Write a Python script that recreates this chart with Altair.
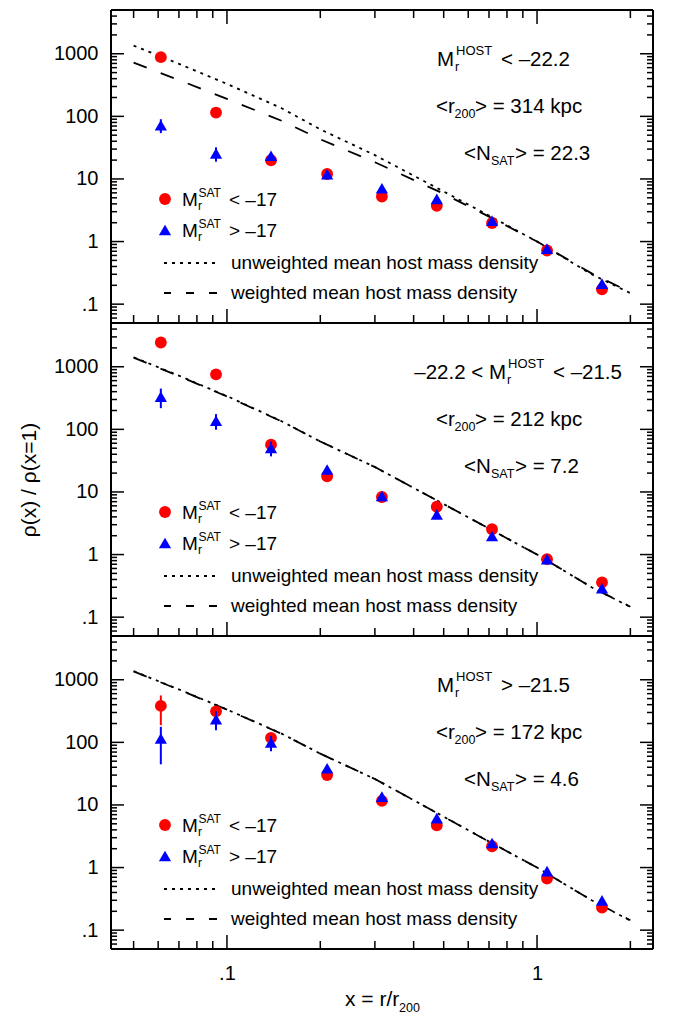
import altair as alt
import pandas as pd

FONT = "Liberation Sans"

# ---------------- data ----------------
X_PTS = [0.0612, 0.0922, 0.1387, 0.2104, 0.316, 0.475, 0.716, 1.077, 1.62]

RED_1 = [883, 115, 19.9, 12.0, 5.25, 3.73, 1.98, 0.72, 0.173]
BLUE_1 = [72, 25.6, 23.5, 11.9, 7.1, 4.8, 2.16, 0.77, 0.213]
RED_2 = [2440, 757, 57, 17.8, 8.3, 5.8, 2.54, 0.845, 0.36]
BLUE_2 = [333, 137, 50.5, 22.8, 8.6, 4.39, 1.98, 0.845, 0.29]
RED_3 = [382, 313, 118, 30.1, 11.6, 4.72, 2.19, 0.668, 0.229]
BLUE_3 = [115, 234, 99.6, 38.5, 13.6, 6.17, 2.47, 0.877, 0.299]

# visible error bars: (point index, low, high)
ERR_RED_1 = []
ERR_BLUE_1 = [(0, 54, 90), (1, 18.9, 32)]
ERR_RED_2 = []
ERR_BLUE_2 = [(0, 218, 448), (1, 98.6, 175), (2, 37, 64)]
ERR_RED_3 = [(0, 188, 562)]
ERR_BLUE_3 = [(0, 44.6, 177), (1, 156, 312), (2, 72, 127)]

X_LINE = [0.05, 0.07, 0.1, 0.15, 0.2, 0.3, 0.5, 0.7, 1.0, 1.5, 2.0]
UNW_1 = [1350, 690, 330, 135, 62, 24, 6.3, 2.6, 1.0, 0.30, 0.15]
WTD_1 = [720, 380, 190, 85, 43, 18.5, 5.8, 2.5, 1.0, 0.31, 0.155]
UNW_2 = [1420, 720, 340, 135, 64, 25, 6.4, 2.6, 1.0, 0.30, 0.145]
WTD_2 = [1400, 710, 335, 134, 64, 25, 6.4, 2.6, 1.0, 0.30, 0.147]
UNW_3 = [1370, 700, 335, 138, 66, 26, 6.5, 2.6, 1.0, 0.30, 0.142]
WTD_3 = [1360, 695, 333, 137, 66, 26, 6.5, 2.6, 1.0, 0.30, 0.144]

Y_MAJOR = [0.1, 1, 10, 100, 1000]
Y_MINOR = [0.05, 0.06, 0.07, 0.08, 0.09,
           0.2, 0.3, 0.4, 0.5, 0.6, 0.7, 0.8, 0.9,
           2, 3, 4, 5, 6, 7, 8, 9,
           20, 30, 40, 50, 60, 70, 80, 90,
           200, 300, 400, 500, 600, 700, 800, 900,
           2000, 3000, 4000, 5000]
X_MAJOR = [0.1, 1]
X_MINOR = [0.05, 0.06, 0.07, 0.08, 0.09, 0.2, 0.3, 0.4, 0.5, 0.6, 0.7, 0.8, 0.9, 2]

HOST_PRE = ["", "–22.2 < ", ""]
HOST_POST = ["< –22.2", "< –21.5", "> –21.5"]
R200 = ["> = 314 kpc", "> = 212 kpc", "> = 172 kpc"]
NSAT = ["> = 22.3", "> = 7.2", "> = 4.6"]

# ---------------- layout ----------------
W, H = 542, 313
XS = alt.Scale(type="log", domain=[0.04227, 2.366])
YS = alt.Scale(type="log", domain=[0.05, 5000])
ONE = pd.DataFrame({"k": [0]})
MAIN, SUB, LEG, LSUB = 20.5, 12.5, 19, 12


def txt(s, x, y, size, align="left"):
    return alt.Chart(ONE).mark_text(
        text=s, font=FONT, fontSize=size, align=align, baseline="alphabetic", color="black"
    ).encode(x=alt.value(x), y=alt.value(y))


def sym(shape, color, x, y, size):
    return alt.Chart(ONE).mark_point(
        shape=shape, filled=True, size=size, color=color, opacity=1
    ).encode(x=alt.value(x), y=alt.value(y))


def seg(dash, x0, x1, y, offset=0):
    return alt.Chart(ONE).mark_rule(
        color="black", strokeWidth=1.8, strokeDash=dash, strokeDashOffset=offset
    ).encode(x=alt.value(x0), x2=alt.value(x1), y=alt.value(y))


def vframe(x):
    return alt.Chart(ONE).mark_rule(color="black", strokeWidth=2).encode(
        x=alt.value(x), y=alt.value(0), y2=alt.value(H))


def hframe(y):
    return alt.Chart(ONE).mark_rule(color="black", strokeWidth=2).encode(
        y=alt.value(y), x=alt.value(0), x2=alt.value(W))


def panel(i, red, blue, unw, wtd, err_red, err_blue, bottom, ytitle):
    pts = pd.DataFrame({"x": X_PTS, "red": red, "blue": blue})
    lines = pd.DataFrame({"x": X_LINE, "unw": unw, "wtd": wtd})

    ykw = dict(values=Y_MAJOR,
               labelExpr="datum.value < 0.5 ? '.1' : format(datum.value, 'd')",
               ticks=False, domain=False, grid=False,
               labelFontSize=20, labelFont=FONT, labelPadding=13, labelColor="black")
    if ytitle:
        ykw.update(title="ρ(x) / ρ(x=1)", titleFont=FONT, titleFontSize=21,
                   titleFontWeight="normal", titlePadding=14, titleColor="black")
    else:
        ykw.update(title="")
    YAX = alt.Axis(**ykw)
    if bottom:
        XAX = alt.Axis(values=X_MAJOR, labelExpr="datum.value < 0.5 ? '.1' : '1'",
                       ticks=False, domain=False, grid=False,
                       labelFontSize=20, labelFont=FONT, labelPadding=14,
                       labelColor="black", title="")
    else:
        XAX = None

    def X(f):
        return alt.X(f, scale=XS, axis=XAX)

    def Y(f):
        return alt.Y(f, scale=YS, axis=YAX)

    def yticks(vals, length, side):
        x0, x1 = (0, length) if side == "left" else (W - length, W)
        return alt.Chart(pd.DataFrame({"v": vals})).mark_rule(color="black", strokeWidth=1.5).encode(
            y=Y("v:Q"), x=alt.value(x0), x2=alt.value(x1))

    def xticks(vals, length, side):
        y0, y1 = (H - length, H) if side == "bottom" else (0, length)
        return alt.Chart(pd.DataFrame({"v": vals})).mark_rule(color="black", strokeWidth=1.5).encode(
            x=X("v:Q"), y=alt.value(y0), y2=alt.value(y1))

    def errbars(err, color):
        df = pd.DataFrame({"x": [X_PTS[k] for k, _, _ in err],
                           "lo": [lo for _, lo, _ in err],
                           "hi": [hi for _, _, hi in err]})
        return alt.Chart(df).mark_rule(color=color, strokeWidth=2).encode(
            x=X("x:Q"), y=Y("lo:Q"), y2="hi:Q")

    layers = [
        yticks(Y_MAJOR, 13, "left"), yticks(Y_MINOR, 6, "left"),
        yticks(Y_MAJOR, 13, "right"), yticks(Y_MINOR, 6, "right"),
        xticks(X_MAJOR, 14, "bottom"), xticks(X_MINOR, 8, "bottom"),
    ]
    if i == 0:
        layers += [xticks(X_MAJOR, 14, "top"), xticks(X_MINOR, 8, "top")]

    base_l = alt.Chart(lines)
    layers += [
        base_l.mark_line(color="black", strokeWidth=1.8, strokeDash=[3, 5]).encode(
            x=X("x:Q"), y=Y("unw:Q")),
        base_l.mark_line(color="black", strokeWidth=1.8, strokeDash=[14, 15]).encode(
            x=X("x:Q"), y=Y("wtd:Q")),
    ]
    if err_red:
        layers.append(errbars(err_red, "#ff0000"))
    base_p = alt.Chart(pts)
    layers.append(base_p.mark_point(shape="circle", filled=True, size=140, color="#ff0000", opacity=1).encode(
        x=X("x:Q"), y=Y("red:Q")))
    if err_blue:
        layers.append(errbars(err_blue, "#0000ff"))
    layers.append(base_p.mark_point(shape="triangle-up", filled=True, size=150, color="#0000ff", opacity=1).encode(
        x=X("x:Q"), y=Y("blue:Q")))

    # frame
    layers += [vframe(0), vframe(W), hframe(0), hframe(H)]

    # legend
    for k, (shape, color, sz, sign) in enumerate([("circle", "#ff0000", 140, "< –17"),
                                                  ("triangle-up", "#0000ff", 150, "> –17")]):
        yy = 189 + 31 * k
        layers += [sym(shape, color, 54, yy, sz),
                   txt("M", 71, yy + 7, LEG), txt("r", 87, yy + 11, LSUB),
                   txt("SAT", 87.5, yy - 2, LSUB), txt(sign, 118, yy + 7, LEG)]
    layers += [seg([3, 5], 53, 108, 253), txt("unweighted mean host mass density", 120, 259, LEG),
               seg([8, 15], 53, 108, 283, 1), txt("weighted mean host mass density", 120, 289, LEG)]

    # annotation
    mr = 343 if i != 1 else 395
    layers += [txt(HOST_PRE[i] + "M", mr, 56, MAIN, "right"), txt("r", mr + 1, 61, SUB),
               txt("HOST", mr + 2, 45, 13), txt(HOST_POST[i], mr + 47, 56, MAIN),
               txt("<r", 325, 103, MAIN), txt("200", 343.5, 108, SUB), txt(R200[i], 364, 103, MAIN),
               txt("<N", 353, 150, MAIN), txt("SAT", 380, 155, SUB), txt(NSAT[i], 404, 150, MAIN)]

    if bottom:
        layers += [txt("x = r/r", 234, 370, 21), txt("200", 288, 376, 12.5)]

    return alt.layer(*layers).properties(width=W, height=H)


p1 = panel(0, RED_1, BLUE_1, UNW_1, WTD_1, ERR_RED_1, ERR_BLUE_1, False, False)
p2 = panel(1, RED_2, BLUE_2, UNW_2, WTD_2, ERR_RED_2, ERR_BLUE_2, False, True)
p3 = panel(2, RED_3, BLUE_3, UNW_3, WTD_3, ERR_RED_3, ERR_BLUE_3, True, False)

chart = alt.vconcat(p1, p2, p3, spacing=0, bounds="flush").properties(
    padding={"left": 10, "top": 0, "right": 5, "bottom": 5}
).configure_view(stroke="black", strokeWidth=2).configure(font=FONT)

chart.save("out.html", embed_options={"renderer": "svg", "actions": False})
